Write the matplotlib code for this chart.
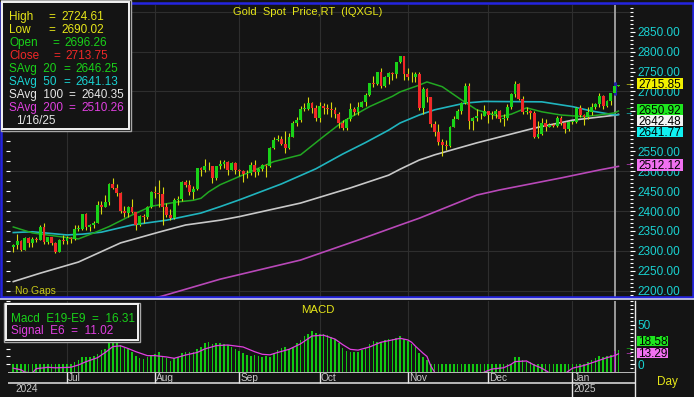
import matplotlib
matplotlib.use("Agg")
import matplotlib.pyplot as plt
from matplotlib.patches import Rectangle
from matplotlib.lines import Line2D
import numpy as np
import pandas as pd

plt.rcParams["font.family"] = ["Liberation Sans", "DejaVu Sans"]

W, H = 694, 397
BG = "#141414"
GRID = "#2e2e2e"
YELLOW = "#e6e619"
GREEN = "#19d219"
RED = "#f02828"
CYAN = "#19d2d2"
WHITE = "#e6e6e6"
MAGENTA = "#e040e0"
WICK = "#d8d810"

# ---- daily bars, Jun 11 2024 .. Jan 17 2025 ----
dates = pd.bdate_range("2024-06-11", "2025-01-17")

opens = [2310, 2316, 2325, 2303, 2332, 2319, 2330, 2328, 2360, 2322,
         2334, 2320, 2298, 2327, 2326, 2332, 2330, 2356, 2356, 2392,
         2359, 2364, 2371, 2415, 2411, 2422, 2469, 2459, 2445, 2400,
         2396, 2409, 2397, 2364, 2387, 2384, 2410, 2447, 2446, 2443,
         2409, 2390, 2382, 2427, 2431, 2472, 2465, 2447, 2456, 2507,
         2504, 2513, 2512, 2484, 2512, 2518, 2524, 2504, 2520, 2503,
         2500, 2493, 2495, 2516, 2497, 2506, 2516, 2512, 2558, 2578,
         2582, 2569, 2559, 2587, 2622, 2628, 2657, 2657, 2672, 2658,
         2634, 2663, 2658, 2656, 2653, 2644, 2622, 2608, 2631, 2657,
         2649, 2662, 2674, 2692, 2721, 2719, 2748, 2715, 2736, 2747,
         2743, 2774, 2788, 2743, 2736, 2736, 2743, 2659, 2706, 2685,
         2619, 2598, 2573, 2565, 2562, 2612, 2631, 2651, 2670, 2715,
         2625, 2633, 2638, 2639, 2650, 2640, 2643, 2650, 2632, 2633,
         2660, 2694, 2718, 2680, 2648, 2652, 2646, 2586, 2594, 2622,
         2612, 2617, 2613, 2634, 2621, 2606, 2624, 2624, 2658, 2640,
         2636, 2649, 2661, 2669, 2689, 2663, 2677, 2696.26, 2713.75]
highs = [2317, 2342, 2327, 2334, 2334, 2335, 2335, 2365, 2369, 2335,
         2335, 2323, 2329, 2339, 2338, 2335, 2365, 2364, 2393, 2394,
         2368, 2375, 2424, 2424, 2440, 2470, 2483, 2467, 2449, 2412,
         2412, 2431, 2398, 2390, 2393, 2412, 2451, 2462, 2477, 2461,
         2420, 2404, 2432, 2438, 2475, 2477, 2479, 2464, 2509, 2510,
         2531, 2522, 2514, 2513, 2527, 2528, 2526, 2524, 2523, 2506,
         2503, 2504, 2523, 2529, 2508, 2519, 2519, 2560, 2586, 2590,
         2589, 2600, 2595, 2625, 2635, 2664, 2670, 2685, 2674, 2665,
         2673, 2672, 2669, 2673, 2660, 2648, 2628, 2634, 2670, 2660,
         2674, 2677, 2695, 2722, 2740, 2749, 2758, 2740, 2748, 2749,
         2775, 2790, 2790, 2760, 2749, 2750, 2749, 2710, 2709, 2686,
         2626, 2618, 2582, 2578, 2614, 2639, 2656, 2674, 2721, 2721,
         2635, 2657, 2646, 2665, 2651, 2650, 2657, 2653, 2644, 2668,
         2696, 2726, 2721, 2689, 2661, 2654, 2652, 2626, 2633, 2630,
         2621, 2621, 2639, 2638, 2624, 2627, 2627, 2660, 2665, 2643,
         2661, 2671, 2671, 2697, 2690, 2679, 2697, 2724.61, 2716.5]
lows = [2298, 2305, 2299, 2302, 2310, 2310, 2323, 2327, 2317, 2318,
        2316, 2294, 2297, 2318, 2318, 2319, 2327, 2351, 2353, 2353,
        2351, 2357, 2370, 2393, 2410, 2414, 2455, 2437, 2394, 2384,
        2384, 2394, 2353, 2362, 2369, 2379, 2407, 2432, 2410, 2364,
        2385, 2377, 2381, 2415, 2425, 2460, 2440, 2431, 2453, 2489,
        2497, 2502, 2470, 2477, 2506, 2507, 2491, 2502, 2493, 2488,
        2472, 2484, 2490, 2485, 2491, 2500, 2486, 2510, 2556, 2576,
        2565, 2546, 2555, 2585, 2614, 2624, 2652, 2654, 2645, 2625,
        2624, 2643, 2644, 2637, 2633, 2608, 2604, 2603, 2626, 2640,
        2641, 2660, 2664, 2688, 2712, 2716, 2708, 2710, 2720, 2730,
        2734, 2772, 2730, 2730, 2725, 2725, 2653, 2644, 2674, 2610,
        2589, 2566, 2537, 2554, 2560, 2610, 2630, 2643, 2668, 2605,
        2603, 2626, 2632, 2638, 2622, 2632, 2633, 2623, 2614, 2628,
        2656, 2687, 2678, 2643, 2643, 2632, 2583, 2583, 2591, 2600,
        2610, 2611, 2610, 2615, 2597, 2602, 2618, 2622, 2635, 2615,
        2632, 2642, 2657, 2660, 2656, 2660, 2667, 2690.02, 2712.5]
closes = [2316, 2325, 2303, 2332, 2319, 2330, 2328, 2360, 2322, 2334,
          2320, 2298, 2327, 2326, 2332, 2330, 2356, 2356, 2392, 2359,
          2364, 2371, 2415, 2411, 2422, 2469, 2459, 2445, 2400, 2396,
          2409, 2397, 2364, 2387, 2384, 2410, 2447, 2446, 2443, 2409,
          2390, 2382, 2427, 2431, 2472, 2465, 2447, 2456, 2507, 2504,
          2513, 2512, 2484, 2512, 2518, 2524, 2504, 2520, 2503, 2500,
          2493, 2495, 2516, 2497, 2506, 2516, 2512, 2558, 2578, 2582,
          2569, 2559, 2587, 2622, 2628, 2657, 2657, 2672, 2658, 2634,
          2663, 2658, 2656, 2653, 2644, 2622, 2608, 2631, 2657, 2649,
          2662, 2674, 2692, 2721, 2719, 2748, 2715, 2736, 2747, 2743,
          2774, 2788, 2743, 2736, 2736, 2743, 2659, 2706, 2685, 2619,
          2598, 2573, 2565, 2562, 2612, 2631, 2651, 2670, 2715, 2625,
          2633, 2638, 2639, 2650, 2640, 2643, 2650, 2632, 2633, 2660,
          2694, 2718, 2680, 2648, 2652, 2646, 2586, 2594, 2622, 2612,
          2617, 2613, 2634, 2621, 2606, 2624, 2624, 2658, 2640, 2636,
          2649, 2661, 2669, 2689, 2663, 2677, 2696, 2713.75, 2715.85]

# moving averages at bar positions
sma20_i = [0, 5, 12, 17, 21, 25, 31, 36, 43, 47, 49, 51, 54, 62, 68, 75, 81, 86,
           93, 99, 101, 106, 108, 112, 117, 121, 127, 130, 134, 138, 143, 149, 153, 157, 158]
sma20_v = [2360, 2345, 2336, 2330, 2345, 2361, 2390, 2412, 2423, 2427, 2432, 2448, 2466,
           2499, 2524, 2541, 2587, 2624, 2662, 2688, 2699, 2716, 2724, 2712, 2679, 2654,
           2637, 2643, 2659, 2649, 2641, 2637, 2641, 2646.25, 2650.92]
sma50_i = [0, 5, 14, 18, 23, 31, 40, 49, 54, 59, 70, 79, 86, 92, 98, 101, 106, 110,
           118, 123, 138, 146, 151, 157, 158]
sma50_v = [2346, 2348, 2340, 2342, 2347, 2365, 2377, 2395, 2411, 2428, 2468, 2506, 2543,
           2572, 2603, 2621, 2641, 2654, 2671, 2675, 2674, 2662, 2651, 2641.13, 2641.77]
sma100_i = [0, 7, 17, 28, 38, 45, 54, 59, 75, 88, 98, 101, 106, 110, 121, 136, 146, 157, 158]
sma100_v = [2223, 2244, 2272, 2320, 2347, 2365, 2377, 2386, 2420, 2458, 2490, 2505, 2528,
            2541, 2571, 2608, 2628, 2640.35, 2642.48]
sma200_i = [20, 39, 54, 75, 90, 101, 106, 121, 127, 143, 153, 157, 158]
sma200_v = [2140, 2187, 2229, 2277, 2327, 2365, 2382, 2440, 2453, 2483, 2503, 2510.26, 2512.12]

macd = [-2, -2, -3, -2, -3, -2, -2, -1, -2, -2,
        -2, -4, -3, -2, -1, -1, 2.5, 5.5, 9, 9,
        9, 10, 12.7, 18, 20, 26.7, 28, 26.7, 24.5, 21,
        20, 16, 11, 7.6, 7, 9.7, 11.8, 12.7, 16, 11,
        8.4, 4.2, 7.6, 9.7, 14, 16, 15, 16, 20, 22.4,
        26.7, 28, 25.7, 26.7, 26.7, 26, 25, 22, 20, 17,
        14, 12, 11, 12, 10, 9, 10, 9, 14, 18,
        21, 22, 20, 22, 27, 31, 36, 39, 42, 40,
        38, 38, 37, 35, 32, 27, 21, 17, 16, 15,
        16, 18, 21, 26, 29, 28, 28, 31, 32, 32,
        34, 36, 32, 29.6, 25.4, 22.4, 14, 9.7, 5.5, -3,
        -9, -15, -20, -23, -22, -19, -15, -11, -5, -8,
        -10, -10, -10, -8, -8, -7, -5, -6, -5, -2,
        -0.5, 9.7, 9.7, 5.5, 3.4, 3.4, -2, -7, -8, -9,
        -9, -9, -7, -7, -8, -7, -6, -2, 0.8, 0.8,
        3.4, 5.5, 7.6, 11, 9.7, 11, 11.8, 16.31, 18.58]
signal_i = [0, 2, 3, 5, 6, 8, 9, 11, 13, 15, 17, 19, 22, 24, 26, 28, 30, 32, 35, 37,
            40, 42, 45, 48, 50, 53, 56, 60, 63, 65, 67, 69, 72, 75, 78, 81, 84, 86, 88,
            90, 93, 96, 99, 101, 103, 104, 105, 107, 108, 109, 110, 112, 118, 122, 125,
            128, 130, 131, 134, 136, 138, 140, 144, 146, 149, 152, 155, 157, 158]
signal_v = [-5, -7, -10, -11, -5.5, -4.5, -3.8, -4.5, -4.2, -3.8, -0.9, 3.3, 8.4, 15,
            22.5, 23.5, 20, 16, 11, 11, 9.3, 7.6, 11.8, 15, 19.5, 23.7, 24.5, 22, 16,
            12.7, 12, 15, 19, 26, 36, 37, 32, 25, 19, 18, 22, 28, 31, 33, 31, 28, 23,
            14, 10, -2, -10, -20, -25, -12, -6, -4.5, 0, 3.4, 4.2, -1, -5, -11, -12,
            -5, -1.5, 3.4, 8.4, 11.02, 13.29]

cursor = 157
o = np.array(opens); h = np.array(highs); l = np.array(lows); c = np.array(closes)
idx = np.arange(len(c))


def ix(px):
    return (px - 13.3) / 3.83


def add_ax(x0, y0, x1, y1):
    a = fig.add_axes([x0 / W, 1 - y1 / H, (x1 - x0) / W, (y1 - y0) / H])
    a.set_facecolor(BG)
    for s in a.spines.values():
        s.set_visible(False)
    return a


def ftext(x, y, s, color, size=8.5, ha="left"):
    # y is the visual middle of the digits, in pixels from top
    fig.text(x / W, 1 - (y + 0.36 * size * 100 / 72) / H, s, color=color,
             fontsize=size, ha=ha, va="baseline")


def fbox(x0, y0, x1, y1, fc, ec="none", lw=0):
    fig.patches.append(Rectangle((x0 / W, 1 - y1 / H), (x1 - x0) / W, (y1 - y0) / H,
                                 transform=fig.transFigure, fc=fc, ec=ec, lw=lw))


def fline(x0, y0, x1, y1, color, lw):
    fig.lines.append(Line2D([x0 / W, x1 / W], [1 - y0 / H, 1 - y1 / H],
                            transform=fig.transFigure, color=color, lw=lw))


fig = plt.figure(figsize=(W / 100, H / 100), dpi=100, facecolor=BG)

month_idx = [i for i in range(1, len(dates)) if dates[i].month != dates[i - 1].month]
month_lab = [dates[i].strftime("%b") for i in month_idx]
xl = (ix(8), ix(630))

# ---------------- price panel ----------------
ax = add_ax(8, 5, 630, 297)
ax.set_xlim(*xl)
ax.set_ylim(2184.3, 2917)
for v in range(2200, 2901, 100):
    ax.axhline(v, color=GRID, lw=0.8, zorder=0)
for m in month_idx:
    ax.axvline(m, color=GRID, lw=0.8, zorder=0)
ax.axvline(cursor, color="#9a9a9a", lw=1.4, zorder=1)

ax.plot(sma200_i, sma200_v, color="#b848b8", lw=1.2, zorder=2)
ax.plot(sma100_i, sma100_v, color="#c8c8c8", lw=1.2, zorder=2)
ax.plot(sma50_i, sma50_v, color="#20b4be", lw=1.2, zorder=2)
ax.plot(sma20_i, sma20_v, color="#22a822", lw=1.1, zorder=2)

wick_cols = [WICK] * len(c)
wick_cols[cursor] = "#2424a8"
ax.vlines(idx, l, h, colors=wick_cols, lw=0.8, zorder=3)
ax.vlines([cursor], [l[cursor]], [h[cursor]], colors="#2424a8", lw=2.2, zorder=3)
body_cols = np.where(c >= o, GREEN, RED)
ax.bar(idx, np.maximum(np.abs(c - o), 1.2), bottom=np.minimum(o, c), width=0.74,
       color=body_cols, linewidth=0, zorder=4)

# scale labels hidden behind the value tags are left blank
price_ticks = np.arange(2200, 2851, 50)
ax.yaxis.tick_right()
ax.set_yticks(price_ticks)
ax.set_yticklabels(["" if v in (2600, 2650) else f"{v:.2f}" for v in price_ticks])
ax.set_yticks(np.arange(2190, 2911, 10), minor=True)
ax.tick_params(axis="y", which="major", length=3.5, width=0.8, color="white",
               labelcolor=CYAN, labelsize=8.5, pad=2)
ax.tick_params(axis="y", which="minor", length=2.5, width=0.8, color="white")
ax.tick_params(axis="x", bottom=False, labelbottom=False)
sec = ax.secondary_yaxis("left")
sec.set_yticks(np.arange(2200, 2901, 25))
sec.set_yticklabels([])
sec.tick_params(color="white", length=2.5, width=0.8, direction="inout")
for s in sec.spines.values():
    s.set_visible(False)

ax.text(0.5 * (ix(8) + ix(630)) - 3, 2917 - 7 * 2.509, "Gold  Spot  Price,RT  (IQXGL)",
        color=YELLOW, fontsize=8, ha="center", va="center")
ax.text(ix(15), 2184.3 + 6 * 2.509, "No Gaps", color="#c8c819", fontsize=7.5,
        ha="left", va="center")

# ---------------- MACD panel ----------------
am = add_ax(8, 301, 630, 371.5)
am.set_xlim(*xl)
mlo, mhi = -9.2, 80.5
am.set_ylim(mlo, mhi)
for m in month_idx:
    am.axvline(m, color=GRID, lw=0.8, zorder=0)
am.axvline(cursor, color="#9a9a9a", lw=1.4, zorder=1)
mv = np.array(macd)
bar_cols = ["#12c812"] * len(mv)
bar_cols[cursor] = "#b020c0"
am.bar(idx, np.maximum(mv, 0) - mlo, bottom=mlo, width=0.42, color=bar_cols,
       linewidth=0, zorder=2)
am.plot(signal_i, signal_v, color=MAGENTA, lw=0.9, zorder=3)
am.yaxis.tick_right()
am.set_yticks([0, 50])
am.set_yticklabels(["0", "50"])
am.set_yticks(np.arange(-5, 81, 5), minor=True)
am.tick_params(axis="y", which="major", length=3.5, width=0.8, color="white",
               labelcolor=CYAN, labelsize=8.5, pad=2)
am.tick_params(axis="y", which="minor", length=2.5, width=0.8, color="white")
am.tick_params(axis="x", bottom=False, labelbottom=False)
sec2 = am.secondary_yaxis("left")
sec2.set_yticks(np.arange(0, 81, 10))
sec2.set_yticklabels([])
sec2.tick_params(color="white", length=2.5, width=0.8, direction="inout")
for s in sec2.spines.values():
    s.set_visible(False)
am.text(ix(318), mhi - 9 / 0.786, "MACD", color=YELLOW, fontsize=8.2,
        ha="center", va="center")

# ---------------- date axis ----------------
ad = add_ax(8, 371.5, 635, 397)
ad.set_xlim(ix(8), ix(635))
ad.set_ylim(25.5, 0)
ad.set_xticks([]); ad.set_yticks([])
ad.axhline(0.6, color=WHITE, lw=1.1)
ad.axhline(11.5, color=WHITE, lw=1.1)
for m, lab in zip(month_idx, month_lab):
    ad.vlines(m, 0.6, 11.5, color=WHITE, lw=1)
    ad.text(m + 0.3, 1.3, lab, color="#c8c8c8", fontsize=7.3, ha="left", va="top")
jan = [m for m in month_idx if dates[m].month == 1][0]
ad.vlines(jan, 11.5, 25.5, color=WHITE, lw=1)
ad.text(ix(15), 17.5, str(dates[0].year), color="#c8c8c8", fontsize=7.3, va="center")
ad.text(jan + 0.3, 17.5, str(dates[jan].year), color="#c8c8c8", fontsize=7.3, va="center")

# ---------------- frame ----------------
fbox(1.2, 2.8, 692.5, 296.5, fc="none", ec="#2424e0", lw=1.8)
fline(0, 299.3, W, 299.3, "#d0d0f0", 1.2)
fline(635, 301, 635, 397, WHITE, 1.0)
ftext(657, 381, "Day", YELLOW, 8.5)

# legend box (values at the cursor bar)
fbox(0.5, 0.5, 130.5, 130.5, fc=BG, ec="#a8a8a8", lw=1.0)
fbox(2.2, 2.2, 128.8, 128.8, fc="none", ec="#f4f4f4", lw=1.4)
rows = [("High", "=", f"{h[cursor]:.2f}", YELLOW, 48, 61),
        ("Low", "=", f"{l[cursor]:.2f}", YELLOW, 48, 61),
        ("Open", "=", f"{o[cursor]:.2f}", GREEN, 52.3, 64.3),
        ("Close", "=", f"{c[cursor]:.2f}", RED, 53.3, 65),
        ("SAvg  20", "=", f"{sma20_v[-2]:.2f}", GREEN, 63.3, 75),
        ("SAvg  50", "=", f"{sma50_v[-2]:.2f}", CYAN, 63.3, 75),
        ("SAvg  100", "=", f"{sma100_v[-2]:.2f}", WHITE, 68.3, 81.7),
        ("SAvg  200", "=", f"{sma200_v[-2]:.2f}", MAGENTA, 68.3, 81.7)]
for k, (lab, eq, val, col, xe, xv) in enumerate(rows):
    yy = 15.7 + 12.95 * k
    ftext(9, yy, lab, col)
    ftext(xe, yy, eq, col)
    ftext(xv, yy, val, col)
ftext(15.7, 15.7 + 12.95 * 8, dates[cursor].strftime("%-m/%-d/%y"), WHITE)

# MACD legend box
fbox(4, 302.5, 140, 341.5, fc=BG, ec="#a8a8a8", lw=1.0)
fbox(5.7, 304.2, 138.3, 339.8, fc="none", ec="#f4f4f4", lw=1.4)
ftext(11, 317.3, "Macd  E19-E9  =  " + f"{macd[cursor]:.2f}", GREEN)
ftext(11, 329.3, "Signal  E6  =  " + f"{signal_v[-2]:.2f}", MAGENTA)

# last-value tags on the right scale
tags = [(78.3, 89.3, f"{c[-1]:.2f}", "#f0f000"),
        (104.0, 114.6, f"{sma20_v[-1]:.2f}", "#1ee61e"),
        (115.2, 126.0, f"{sma100_v[-1]:.2f}", "#f4f4f4"),
        (126.6, 137.3, f"{sma50_v[-1]:.2f}", "#10f0f0"),
        (159.3, 170.7, f"{sma200_v[-1]:.2f}", "#f070f0")]
for y0, y1, s, fc in tags:
    fbox(636.7, y0, 682.7, y1, fc=fc)
    ftext(638.3, 0.5 * (y0 + y1), s, "black")
for yy, col in [(84.3, YELLOW), (108.5, GREEN), (113.5, CYAN), (164.3, MAGENTA)]:
    ftext(624.5, yy - 1, "→", col, 6)

mtags = [(335.7, 345.7, f"{macd[-1]:.2f}", "#1ee61e"),
         (347.7, 358.3, f"{signal_v[-1]:.2f}", "#f070f0")]
for y0, y1, s, fc in mtags:
    fbox(636.7, y0, 668.3, y1, fc=fc)
    ftext(638.3, 0.5 * (y0 + y1), s, "black")
for yy, col in [(348.3, GREEN), (353.3, MAGENTA)]:
    ftext(624.5, yy - 1, "→", col, 6)

fig.savefig("out.png", dpi=100, facecolor=BG)
